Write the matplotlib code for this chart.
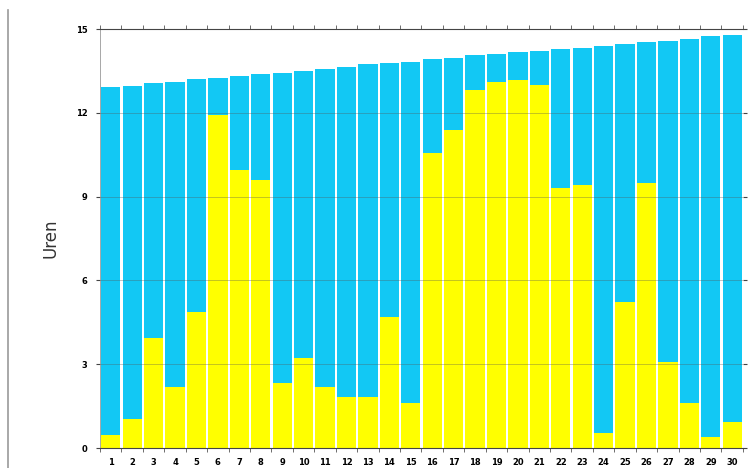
import matplotlib
matplotlib.use("Agg")
import matplotlib.pyplot as plt
from matplotlib.lines import Line2D
import numpy as np

days = list(range(1, 31))
day_labels = [str(d) for d in days]
daylight = [12.94, 12.96, 13.08, 13.10, 13.20, 13.25, 13.32, 13.38, 13.44, 13.51,
            13.56, 13.63, 13.74, 13.80, 13.83, 13.92, 13.98, 14.07, 14.10, 14.17,
            14.21, 14.27, 14.31, 14.39, 14.46, 14.53, 14.58, 14.63, 14.75, 14.79]
sunshine = [0.45, 1.03, 3.93, 2.20, 4.88, 11.92, 9.95, 9.60, 2.32, 3.21,
            2.20, 1.84, 1.84, 4.70, 1.60, 10.55, 11.39, 12.82, 13.11, 13.17,
            13.00, 9.30, 9.42, 0.53, 5.24, 9.48, 3.09, 1.60, 0.40, 0.94]
y_ticks = [0, 3, 6, 9, 12, 15]

rest = [d - s for d, s in zip(daylight, sunshine)]

fig = plt.figure(figsize=(7.55, 4.68), dpi=100)
ax = fig.add_axes([0.1325, 0.0427, 0.8515, 0.8953])

x = np.array(days)
ax.bar(x, sunshine, width=0.9, color='#FFFF00', zorder=2)
ax.bar(x, rest, bottom=sunshine, width=0.9, color='#12C8F4', zorder=2)

ax.set_xlim(0.5, 30.5)
ax.set_ylim(0, 15)
ax.set_yticks(y_ticks)
ax.set_yticklabels([str(t) for t in y_ticks], fontsize=6, fontweight='bold')
ax.set_xticks(x)
ax.set_xticklabels(day_labels, fontsize=6, fontweight='bold')
ax.tick_params(axis='x', length=0, pad=7)
ax.set_xticks(np.arange(0.5, 31, 1), minor=True)
ax.tick_params(axis='x', which='minor', length=3, width=0.6, color='#555555',
               top=True, bottom=True)
ax.tick_params(axis='y', length=3, width=0.8, color='#444444', pad=6, right=True)

for t in y_ticks[1:-1]:
    ax.axhline(t, color='#555555', linewidth=0.6, alpha=0.4, zorder=3)

ax.spines['top'].set_color('#444444')
ax.spines['top'].set_linewidth(0.8)
ax.spines['bottom'].set_color('#444444')
ax.spines['bottom'].set_linewidth(0.8)
ax.spines['left'].set_color('#999999')
ax.spines['left'].set_linewidth(0.6)
ax.spines['right'].set_visible(False)

ax.set_ylabel('Uren', fontsize=12, color='#333333', labelpad=12)

fig.add_artist(Line2D([8/755, 8/755], [0, 1 - 10/468], color='#999999',
                      linewidth=1.2, transform=fig.transFigure))

fig.savefig('out.png', dpi=100)
